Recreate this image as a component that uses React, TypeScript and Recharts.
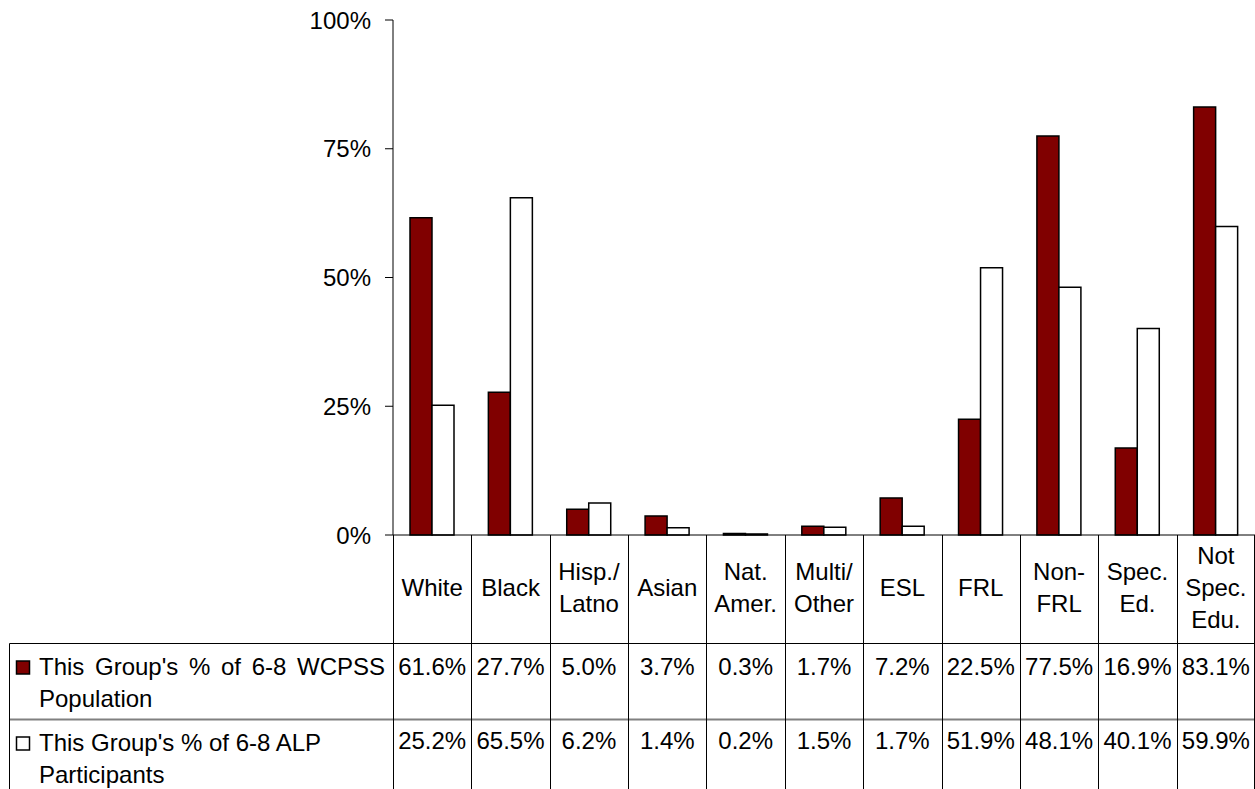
import { BarChart, Bar, XAxis, YAxis, Customized } from 'recharts';

// Student groups (header cells of the data table)
const CATEGORIES = [
  'White',
  'Black',
  'Hisp./\nLatno',
  'Asian',
  'Nat.\nAmer.',
  'Multi/\nOther',
  'ESL',
  'FRL',
  'Non-\nFRL',
  'Spec.\nEd.',
  'Not\nSpec.\nEdu.',
];

// This group's % of 6-8 WCPSS population
const WCPSS = [61.6, 27.7, 5.0, 3.7, 0.3, 1.7, 7.2, 22.5, 77.5, 16.9, 83.1];
// This group's % of 6-8 ALP participants
const ALP = [25.2, 65.5, 6.2, 1.4, 0.2, 1.5, 1.7, 51.9, 48.1, 40.1, 59.9];

const SERIES_LABELS = [
  ["This Group's % of 6-8 WCPSS", 'Population'],
  ["This Group's % of 6-8 ALP", 'Participants'],
];
const SERIES_COLORS = ['#800000', '#ffffff'];

const Y_TICKS = [0, 25, 50, 75, 100];

const FONT = '"Liberation Sans", Arial, sans-serif';
const CHART_W = 1255;
const CHART_H = 789;
const AXIS_W = 393;
const TABLE_LEFT = 9.5;
const ROW_TOPS = [643.5, 719.5];
const HEADER_MID = 587;
const LINE_H = 32;
const BAND = (CHART_W - AXIS_W) / CATEGORIES.length;

const rows = CATEGORIES.map((name, i) => ({ name, wcpss: WCPSS[i], alp: ALP[i] }));

const pct = (v: number) => `${v.toFixed(1)}%`;

const textProps = {
  fontSize: 24,
  fontFamily: FONT,
  fill: '#000',
  textAnchor: 'middle' as const,
  dominantBaseline: 'central' as const,
};

// One column of the data table under each category: borders, header and values
function TableColumn(props: any) {
  const { x, y, payload } = props;
  const i = CATEGORIES.indexOf(payload.value);
  const lines = CATEGORIES[i].split('\n');
  const left = Math.round(x - BAND / 2) + 0.5;
  return (
    <g>
      <line x1={left} x2={left} y1={y} y2={CHART_H} stroke="#000" />
      {i === CATEGORIES.length - 1 && (
        <line x1={CHART_W - 0.5} x2={CHART_W - 0.5} y1={y} y2={CHART_H} stroke="#000" />
      )}
      <text {...textProps}>
        {lines.map((l, k) => (
          <tspan key={k} x={x} y={HEADER_MID + (k - (lines.length - 1) / 2) * LINE_H}>
            {l}
          </tspan>
        ))}
      </text>
      <text {...textProps} x={x} y={ROW_TOPS[0] + 23}>
        {pct(WCPSS[i])}
      </text>
      <text {...textProps} x={x} y={ROW_TOPS[1] + 21}>
        {pct(ALP[i])}
      </text>
    </g>
  );
}

// Left part of the table: row borders and the series keys
function SeriesRows() {
  return (
    <g>
      <line x1={TABLE_LEFT} x2={CHART_W} y1={ROW_TOPS[0]} y2={ROW_TOPS[0]} stroke="#000" />
      <line x1={TABLE_LEFT} x2={CHART_W} y1={ROW_TOPS[1]} y2={ROW_TOPS[1]} stroke="#808080" strokeWidth={2} />
      <line x1={TABLE_LEFT} x2={TABLE_LEFT} y1={ROW_TOPS[0]} y2={CHART_H} stroke="#000" />
      {SERIES_LABELS.map((lines, r) => {
        const top = ROW_TOPS[r];
        return (
          <g key={r}>
            <rect x={16.5} y={top + 17.5} width={13} height={13} fill={SERIES_COLORS[r]} stroke="#000" strokeWidth={1.5} />
            {lines.map((l, k) => (
              <text
                key={k}
                x={39}
                y={top + 23 + k * LINE_H}
                fontSize={24}
                fontFamily={FONT}
                fill="#000"
                dominantBaseline="central"
                wordSpacing={r === 0 && k === 0 ? 4 : 0}
              >
                {l}
              </text>
            ))}
          </g>
        );
      })}
    </g>
  );
}

export default function App() {
  return (
    <div style={{ width: CHART_W, height: CHART_H, background: '#fff' }}>
      <style>{'body{margin:0}'}</style>
      <BarChart
        width={CHART_W}
        height={CHART_H}
        data={rows}
        margin={{ top: 20, right: 0, bottom: 0, left: 0 }}
        barCategoryGap={17}
        barGap={0}
      >
        <YAxis
          width={AXIS_W}
          domain={[0, 100]}
          ticks={Y_TICKS}
          tickFormatter={(v: number) => `${v}%`}
          tick={{ fontSize: 24, fontFamily: FONT, fill: '#000' }}
          tickSize={8}
          tickMargin={14}
          axisLine={{ stroke: '#000' }}
          tickLine={{ stroke: '#000' }}
          interval={0}
        />
        <XAxis
          dataKey="name"
          height={CHART_H - 535}
          interval={0}
          tickLine={false}
          tickSize={0}
          tickMargin={0}
          axisLine={{ stroke: '#000' }}
          tick={TableColumn}
        />
        <Bar dataKey="wcpss" fill={SERIES_COLORS[0]} stroke="#000" strokeWidth={1.5} isAnimationActive={false} />
        <Bar dataKey="alp" fill={SERIES_COLORS[1]} stroke="#000" strokeWidth={1.5} isAnimationActive={false} />
        <Customized component={SeriesRows} />
      </BarChart>
    </div>
  );
}
